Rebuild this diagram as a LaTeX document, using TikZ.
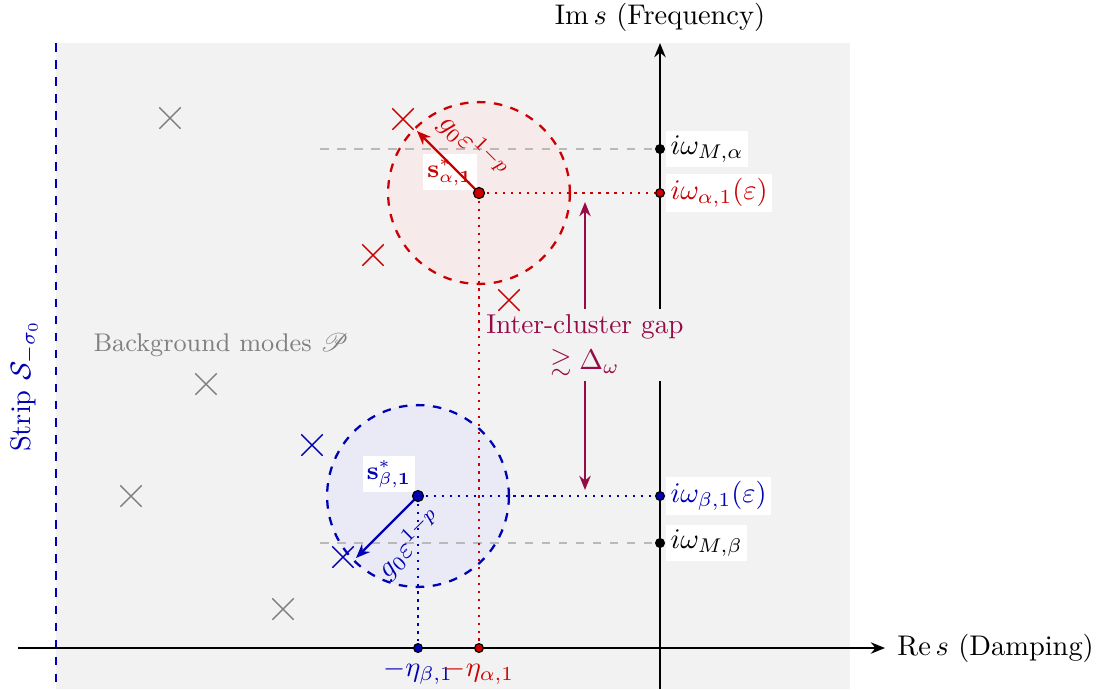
\documentclass[tikz,border=0pt]{standalone}
\usepackage{amsmath,amssymb,mathrsfs}
\usetikzlibrary{arrows.meta,shapes.misc}
\definecolor{cred}{RGB}{204,0,0}
\definecolor{cblue}{RGB}{0,0,180}
\definecolor{cgap}{RGB}{150,10,70}
\definecolor{cbg}{RGB}{242,242,242}
\definecolor{cfa}{RGB}{246,234,234}
\definecolor{cfb}{RGB}{233,234,246}
\begin{document}
\begin{tikzpicture}[x=0.352pt,y=-0.352pt,
  ax/.style={line width=0.7pt,-{Stealth[length=5pt,width=4pt]}},
  axpt/.style={circle,draw=black,inner sep=0pt,minimum size=3.1pt,line width=0.4pt},
  bigpt/.style={circle,draw=black,inner sep=0pt,minimum size=3.9pt,line width=0.4pt},
  axlab/.style={fill=white,inner sep=1.5pt,anchor=west},
  xmark/.style={cross out,draw,minimum size=7pt,inner sep=0pt,line width=0.5pt},
  guide/.style={dashed,gray!55,line width=0.4pt},
  proj/.style={dotted,line width=0.8pt},
  radial/.style={line width=0.8pt,-{Stealth[length=5pt,width=4pt]}},
  slab/.style={fill=white,inner sep=1.5pt,font=\small}
]
\useasboundingbox (0,0) rectangle (1103,689);
% background strip
\fill[cbg] (56,43) rectangle (850,689);
\coordinate (stripTop) at (56,43);
\coordinate (stripBot) at (56,689);
\draw[cblue,dashed,line width=0.7pt] (stripTop) -- (stripBot);
\node[cblue,rotate=90] (strip) at (24,386) {Strip $\mathcal{S}_{-\sigma_0}$};
\node[gray,font=\small] (bgm) at (221,345) {Background modes $\mathscr{P}$};

% key coordinates
\coordinate (sa) at (479,193);
\coordinate (sb) at (418,496);
\coordinate (wMa) at (660,149);
\coordinate (wa) at (660,193);
\coordinate (wb) at (660,496);
\coordinate (wMb) at (660,543);
\coordinate (ea) at (479,648);
\coordinate (eb) at (418,648);
\coordinate (gMa) at (320,149);
\coordinate (gMb) at (320,543);

% discs
\fill[cfa] (sa) circle (32pt);
\fill[cfb] (sb) circle (32pt);

% guide lines
\draw[guide] (gMa) -- (wMa);
\draw[guide] (gMb) -- (wMb);

\draw[cred,dashed,line width=0.8pt] (sa) circle (32pt);
\draw[cblue,dashed,line width=0.8pt] (sb) circle (32pt);

% axes
\coordinate (reL) at (18,648);
\coordinate (reR) at (885,648);
\coordinate (imB) at (660,689);
\coordinate (imT) at (660,43);
\draw[ax] (reL) -- (reR) node[anchor=west,inner sep=4pt] (relab) {$\mathrm{Re}\,s$ (Damping)};
\draw[ax] (imB) -- (imT);
\node (imlab) at (660,17) {$\mathrm{Im}\,s$ (Frequency)};

% inter-cluster gap (drawn before the projections so the dotted line stays visible)
\coordinate (gt) at (585,202);
\coordinate (gb) at (585,490);
\draw[cgap,line width=0.8pt,{Stealth[length=5pt,width=4pt]}-{Stealth[length=5pt,width=4pt]}] (gt) -- (gb);
\node[cgap,fill=cbg,align=center,inner xsep=1pt,inner ysep=2pt,font=\fontsize{9.6}{11.5}\selectfont] (gap) at (585,345) {Inter-cluster gap\\[1pt]$\gtrsim \Delta_\omega$};

% projections
\draw[proj,cred] (sa) -- (wa);
\draw[proj,cred] (sa) -- (ea);
\draw[proj,cblue] (sb) -- (wb);
\draw[proj,cblue] (sb) -- (eb);

% background modes
\foreach \p in {(170,118),(206,384),(131,496),(283,609)} \node[xmark,gray] at \p {};
% cluster modes
\node[xmark,cred] (ra1) at (403,119) {};
\node[xmark,cred] (ra2) at (373,255) {};
\node[xmark,cred] (ra3) at (509,300) {};
\node[xmark,cblue] (rb1) at (312,445) {};
\node[xmark,cblue] (rb2) at (343,557) {};

% labels of centres
\node[slab,text=cred] (lsa) at (450,172) {$\mathbf{s}^*_{\alpha,\mathbf{1}}$};
\node[slab,text=cblue] (lsb) at (389,474) {$\mathbf{s}^*_{\beta,\mathbf{1}}$};

% radial arrows
\draw[radial,cred] (sa) -- node[sloped,above,inner sep=4.5pt,pos=0.42] {$g_0\varepsilon^{1-p}$} ++(-62,-62) coordinate (ta);
\draw[radial,cblue] (sb) -- node[sloped,below,inner sep=4.5pt,pos=0.45] {$g_0\varepsilon^{1-p}$} ++(-62,62) coordinate (tb);

% points
\node[bigpt,fill=cred] (psa) at (sa) {};
\node[bigpt,fill=cblue] (psb) at (sb) {};
\node[axpt,fill=black] (pMa) at (wMa) {};
\node[axpt,fill=cred] (pa) at (wa) {};
\node[axpt,fill=cblue] (pb) at (wb) {};
\node[axpt,fill=black] (pMb) at (wMb) {};
\node[axpt,fill=cred] (pea) at (ea) {};
\node[axpt,fill=cblue] (peb) at (eb) {};

% axis labels
\node[axlab] (lMa) at ([xshift=2pt]wMa) {$i\omega_{M,\alpha}$};
\node[axlab,text=cred] (la) at ([xshift=2pt]wa) {$i\omega_{\alpha,1}(\varepsilon)$};
\node[axlab,text=cblue] (lb) at ([xshift=2pt]wb) {$i\omega_{\beta,1}(\varepsilon)$};
\node[axlab] (lMb) at ([xshift=2pt]wMb) {$i\omega_{M,\beta}$};
\node[text=cblue,anchor=north,inner sep=4pt] (leb) at (eb) {$-\eta_{\beta,1}$};
\node[text=cred,anchor=north,inner sep=4pt] (lea) at (ea) {$-\eta_{\alpha,1}$};
\end{tikzpicture}
\end{document}
